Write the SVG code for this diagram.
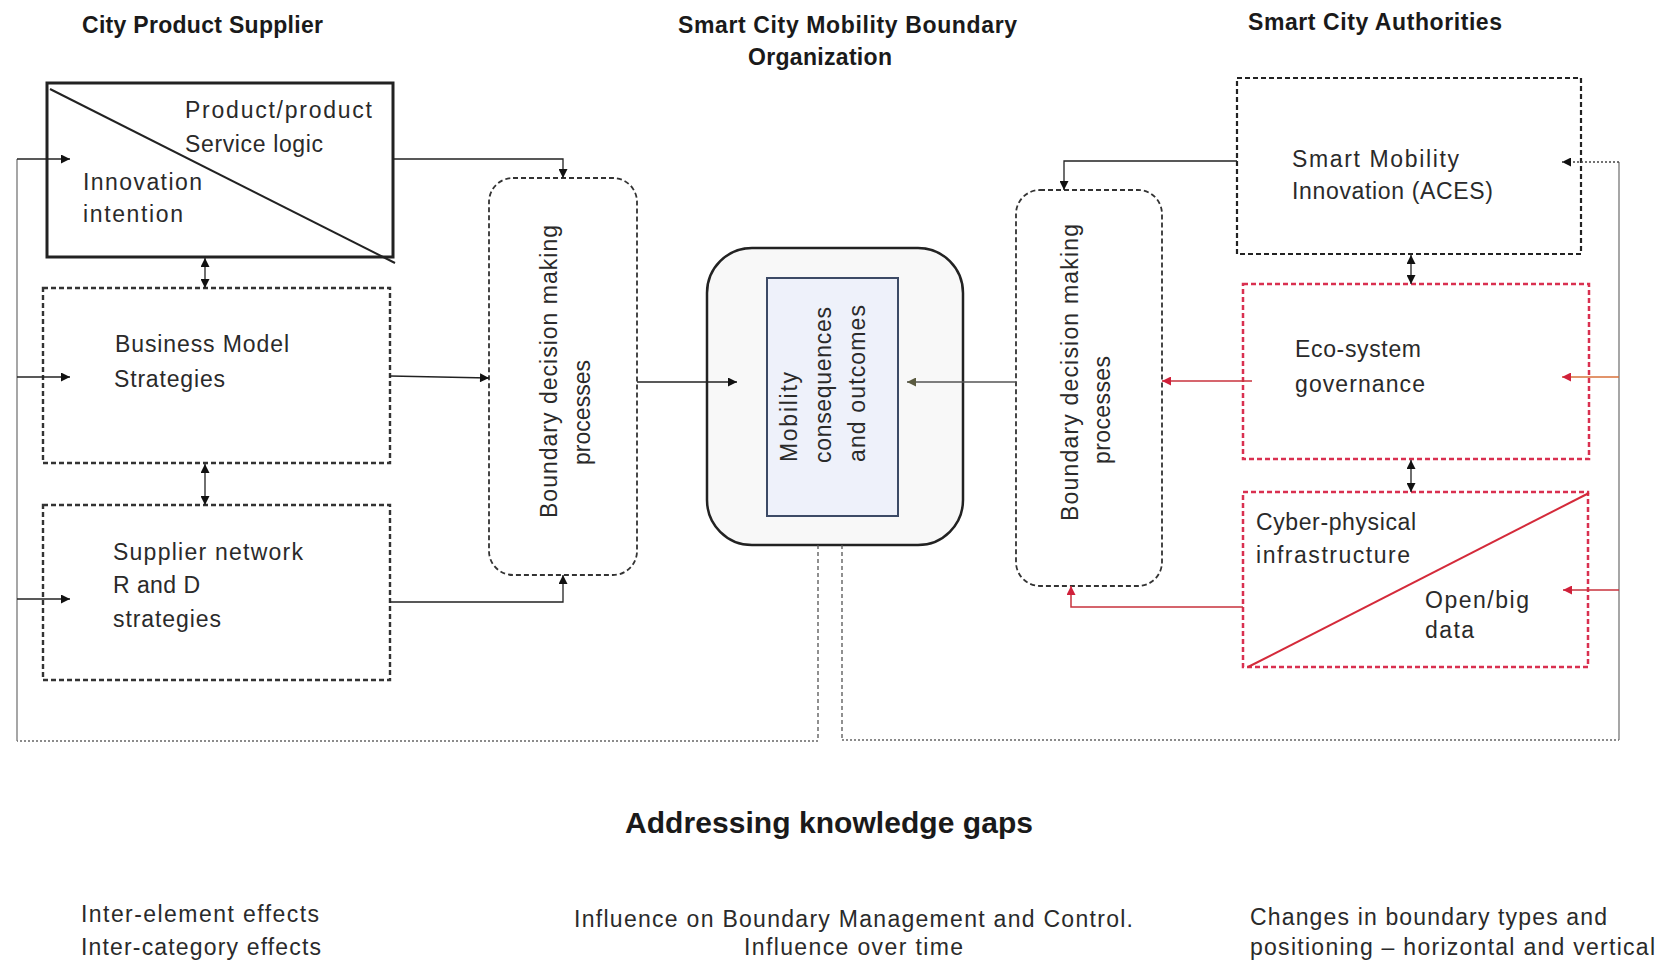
<svg xmlns="http://www.w3.org/2000/svg" width="1666" height="964" viewBox="0 0 1666 964">
<style>
text{font-family:"Liberation Sans",Arial,sans-serif;font-size:23px;fill:#2a2a2a}
.title{font-weight:bold;fill:#1a1a1a}
.big{font-size:30px}
.solidbox{fill:#fff;stroke:#222;stroke-width:3}
.dbox{fill:#fff;stroke:#333;stroke-width:2.4;stroke-dasharray:5 3}
.bbox{fill:#fff;stroke:#333;stroke-width:1.8;stroke-dasharray:5 3}
.rbox{fill:#fff;stroke:#d93050;stroke-width:2.5;stroke-dasharray:5 3}
.ln{fill:none;stroke:#222;stroke-width:1.3}
.rl{fill:none;stroke:#c8323c;stroke-width:1.5}
.gv{fill:none;stroke:#777;stroke-width:1.3}
.dash{fill:none;stroke:#555;stroke-width:1.3;stroke-dasharray:4 3}
.dot{fill:none;stroke:#666;stroke-width:1.5;stroke-dasharray:2 2}
</style>
<defs>
<marker id="ah" viewBox="0 0 10 10" refX="10" refY="5" markerWidth="11" markerHeight="9" markerUnits="userSpaceOnUse" orient="auto-start-reverse"><path d="M0,0 L10,5 L0,10 z" fill="#111"/></marker>
<marker id="ahr" viewBox="0 0 10 10" refX="10" refY="5" markerWidth="11" markerHeight="9" markerUnits="userSpaceOnUse" orient="auto-start-reverse"><path d="M0,0 L10,5 L0,10 z" fill="#d0203a"/></marker>
<marker id="aho" viewBox="0 0 10 10" refX="10" refY="5" markerWidth="11" markerHeight="9" markerUnits="userSpaceOnUse" orient="auto-start-reverse"><path d="M0,0 L10,5 L0,10 z" fill="#5a5a40"/></marker>
</defs>
<rect width="1666" height="964" fill="#fff"/>

<g id="titles">
<text class="title" x="82" y="33" textLength="241">City Product Supplier</text>
<text class="title" x="678" y="33" textLength="339">Smart City Mobility Boundary</text>
<text class="title" x="748" y="65" textLength="144">Organization</text>
<text class="title" x="1248" y="30" textLength="254">Smart City Authorities</text>
</g>

<g id="node-product">
<rect class="solidbox" x="47" y="83" width="346" height="174"/>
<line x1="50" y1="89" x2="395" y2="263" stroke="#222" stroke-width="2"/>
<text x="185" y="118" textLength="187">Product/product</text>
<text x="185" y="152" textLength="138">Service logic</text>
<text x="83" y="190" textLength="119">Innovation</text>
<text x="83" y="222" textLength="100">intention</text>
</g>

<g id="node-business">
<rect class="dbox" x="43" y="288" width="347" height="175"/>
<text x="115" y="352" textLength="174">Business Model</text>
<text x="114" y="387" textLength="111">Strategies</text>
</g>

<g id="node-supplier">
<rect class="dbox" x="43" y="505" width="347" height="175"/>
<text x="113" y="560" textLength="190">Supplier network</text>
<text x="113" y="593" textLength="87">R and D</text>
<text x="113" y="627" textLength="108">strategies</text>
</g>

<g id="node-boundary-left">
<rect class="bbox" x="489" y="178" width="148" height="397" rx="24"/>
<text transform="translate(557,518) rotate(-90)" textLength="293">Boundary decision making</text>
<text transform="translate(590,465) rotate(-90)" textLength="105">processes</text>
</g>

<g id="node-mobility">
<rect x="707" y="248" width="256" height="297" rx="45" fill="#f8f8f8" stroke="#222" stroke-width="2.5"/>
<rect x="767" y="278" width="131" height="238" fill="#eef1fa" stroke="#3c4a66" stroke-width="2"/>
<text transform="translate(797,462) rotate(-90)" textLength="90">Mobility</text>
<text transform="translate(831,463) rotate(-90)" textLength="156">consequences</text>
<text transform="translate(865,462) rotate(-90)" textLength="157">and outcomes</text>
</g>

<g id="node-boundary-right">
<rect class="bbox" x="1016" y="190" width="146" height="396" rx="24"/>
<text transform="translate(1078,521) rotate(-90)" textLength="297">Boundary decision making</text>
<text transform="translate(1110,464) rotate(-90)" textLength="108">processes</text>
</g>

<g id="node-smartmobility">
<rect x="1237" y="78" width="344" height="176" fill="#fff" stroke="#222" stroke-width="2.2" stroke-dasharray="5 3"/>
<text x="1292" y="167" textLength="167">Smart Mobility</text>
<text x="1292" y="199" textLength="201">Innovation (ACES)</text>
</g>

<g id="node-ecosystem">
<rect class="rbox" x="1243" y="284" width="346" height="175"/>
<text x="1295" y="357" textLength="126">Eco-system</text>
<text x="1295" y="392" textLength="130">governance</text>
</g>

<g id="node-cyber">
<rect class="rbox" x="1243" y="492" width="345" height="175"/>
<line x1="1248" y1="667" x2="1589" y2="493" stroke="#d42a3a" stroke-width="2"/>
<text x="1256" y="530" textLength="160">Cyber-physical</text>
<text x="1256" y="563" textLength="154">infrastructure</text>
<text x="1425" y="608" textLength="104">Open/big</text>
<text x="1425" y="638" textLength="49">data</text>
</g>

<g id="connectors">
<!-- left feedback loop -->
<line class="dash" x1="818" y1="545" x2="818" y2="741"/>
<line class="dot" x1="818" y1="741" x2="17" y2="741"/>
<line class="gv" x1="17" y1="741" x2="17" y2="159"/>
<line class="ln" x1="17" y1="159" x2="70" y2="159" marker-end="url(#ah)"/>
<line class="ln" x1="17" y1="377" x2="70" y2="377" marker-end="url(#ah)"/>
<line class="ln" x1="17" y1="599" x2="70" y2="599" marker-end="url(#ah)"/>
<!-- supplier to boundary -->
<polyline class="ln" points="393,159 563,159 563,178" marker-end="url(#ah)"/>
<line class="ln" x1="390" y1="376" x2="489" y2="378" marker-end="url(#ah)"/>
<polyline class="ln" points="390,602 563,602 563,575" marker-end="url(#ah)"/>
<line class="ln" x1="205" y1="258" x2="205" y2="288" marker-start="url(#ah)" marker-end="url(#ah)"/>
<line class="ln" x1="205" y1="464" x2="205" y2="505" marker-start="url(#ah)" marker-end="url(#ah)"/>
<!-- boundaries to mobility -->
<line class="ln" x1="637" y1="382" x2="737" y2="382" marker-end="url(#ah)"/>
<line x1="1016" y1="382" x2="907" y2="382" stroke="#555" stroke-width="1.3" marker-end="url(#aho)"/>
<!-- authorities -->
<polyline class="ln" points="1237,161 1064,161 1064,190" marker-end="url(#ah)"/>
<line class="ln" x1="1411" y1="255" x2="1411" y2="284" marker-start="url(#ah)" marker-end="url(#ah)"/>
<line class="ln" x1="1411" y1="460" x2="1411" y2="492" marker-start="url(#ah)" marker-end="url(#ah)"/>
<line class="rl" x1="1252" y1="381" x2="1162" y2="381" marker-end="url(#ahr)"/>
<polyline class="rl" points="1243,607 1071,607 1071,586" marker-end="url(#ahr)"/>
<!-- right feedback loop -->
<line class="dash" x1="842" y1="545" x2="842" y2="740"/>
<line class="dot" x1="842" y1="740" x2="1619" y2="740"/>
<line class="gv" x1="1619" y1="740" x2="1619" y2="162"/>
<line x1="1619" y1="162" x2="1562" y2="162" stroke="#444" stroke-width="1.3" stroke-dasharray="2 2" marker-end="url(#ah)"/>
<line x1="1619" y1="377" x2="1562" y2="377" stroke="#d9703a" stroke-width="1.3" marker-end="url(#ahr)"/>
<line x1="1619" y1="590" x2="1563" y2="590" stroke="#c8323c" stroke-width="1.3" marker-end="url(#ahr)"/>
</g>

<g id="footer">
<text class="title big" x="625" y="833" textLength="408">Addressing knowledge gaps</text>
<text x="81" y="922" textLength="238">Inter-element effects</text>
<text x="81" y="955" textLength="240">Inter-category effects</text>
<text x="574" y="927" textLength="559">Influence on Boundary Management and Control.</text>
<text x="744" y="955" textLength="219">Influence over time</text>
<text x="1250" y="925" textLength="357">Changes in boundary types and</text>
<text x="1250" y="955" textLength="405">positioning – horizontal and vertical</text>
</g>
</svg>
